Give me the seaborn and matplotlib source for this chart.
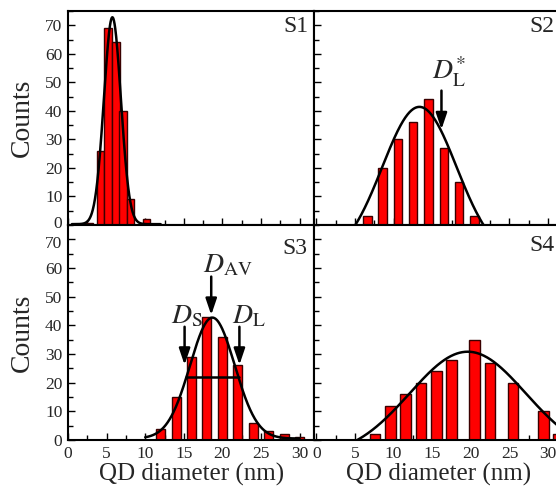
import numpy as np
import pandas as pd
import matplotlib
matplotlib.use("Agg")
import matplotlib.pyplot as plt
import matplotlib.transforms as mtransforms
import seaborn as sns
from matplotlib.ticker import MultipleLocator

# ---------------- data ----------------
s1_x = [2.7, 4.2, 5.2, 6.2, 7.15, 8.1, 10.2]
s1_counts = [0.8, 26, 69, 64, 40, 9, 2]
s2_x = [6.65, 8.6, 10.6, 12.55, 14.55, 16.55, 18.5, 20.5]
s2_counts = [3, 20, 30, 36, 44, 27, 15, 3]
s3_x = [12, 14, 16, 18, 20, 22, 24, 26, 28, 30]
s3_counts = [4, 15, 29, 43, 36, 26, 6, 3, 2, 1]
s4_x = [7.6, 9.6, 11.55, 13.55, 15.55, 17.5, 20.5, 22.45, 25.45, 29.4, 31.35]
s4_counts = [2, 12, 16, 20, 24, 28, 35, 27, 20, 10, 2]

bar_widths = [0.97, 1.1, 1.17, 1.35]

# Gaussian fit parameters (centre, sigma, amplitude, offset) and plotted range
fit_center = [5.75, 13.35, 18.7, 19.6]
fit_sigma = [1.1, 4.8, 2.89, 7.5]
fit_amp = [72.5, 53.4, 42.2, 36.8]
fit_offset = [0.3, -12.0, 0.5, -6.0]
fit_lo = [0.5, 4.0, 10.0, 5.0]
fit_hi = [12.0, 23.0, 30.0, 33.0]

panel_names = ["S1", "S2", "S3", "S4"]
x_ticks = [0, 5, 10, 15, 20, 25, 30]
y_ticks = [0, 10, 20, 30, 40, 50, 60, 70]

# ---------------- style ----------------
sns.set_theme(style="ticks")
plt.rcParams["font.family"] = ["Liberation Serif", "DejaVu Serif"]
plt.rcParams["mathtext.fontset"] = "stix"

W, H = 556, 492
fig = plt.figure(figsize=(W / 100, H / 100), dpi=100)

def box(x0, y_top, x1, y_bot):
    return [x0 / W, (H - y_bot) / H, (x1 - x0) / W, (y_bot - y_top) / H]

ax1 = fig.add_axes(box(68, 11, 314.3, 225))
ax2 = fig.add_axes(box(314.3, 11, 314.3 + 32.25 * 7.73, 225))
ax3 = fig.add_axes(box(68, 225, 314.3, 440))
ax4 = fig.add_axes(box(314.3, 225, 314.3 + 32.25 * 7.73, 440))
axes = [ax1, ax2, ax3, ax4]

xs = [s1_x, s2_x, s3_x, s4_x]
ys = [s1_counts, s2_counts, s3_counts, s4_counts]

for i, ax in enumerate(axes):
    ax.bar(xs[i], ys[i], width=bar_widths[i], color="#ff0000",
           edgecolor="#3a0000", linewidth=1.0, zorder=2)
    xx = np.linspace(fit_lo[i], fit_hi[i], 400)
    yy = fit_offset[i] + fit_amp[i] * np.exp(-(xx - fit_center[i]) ** 2 / (2 * fit_sigma[i] ** 2))
    df = pd.DataFrame({"x": xx, "y": yy})
    sns.lineplot(data=df, x="x", y="y", ax=ax, color="black", linewidth=1.8,
                 zorder=3, sort=False)
    ax.set_ylim(0, 75)
    if i in (0, 2):
        ax.set_xlim(0, 31.9)
    else:
        ax.set_xlim(-0.25, 32)
    ax.set_xticks(x_ticks)
    ax.set_yticks(y_ticks)
    ax.xaxis.set_minor_locator(MultipleLocator(2.5))
    ax.yaxis.set_minor_locator(MultipleLocator(5))
    ax.tick_params(which="both", direction="in", color="black", width=1.0,
                   top=False, right=False, labelsize=12.5, pad=4)
    ax.tick_params(which="major", length=5)
    ax.tick_params(which="minor", length=3.5)
    for sp in ax.spines.values():
        sp.set_linewidth(1.5)
        sp.set_color("black")
    ax.set_xlabel("")
    ax.set_ylabel("")
    if i in (0, 1):
        ax.tick_params(labelbottom=False)
    else:
        ax.set_xlabel("QD diameter (nm)", fontsize=18, labelpad=1)
    if i in (1, 3):
        ax.tick_params(labelleft=False)
    else:
        ax.set_ylabel("Counts", fontsize=20, labelpad=7)

# panel labels
ax1.text(31.2, 73.3, "S1", ha="right", va="top", fontsize=17)
ax2.text(30.8, 73.3, "S2", ha="right", va="top", fontsize=17)
ax3.text(31.0, 70.5, "S3", ha="right", va="top", fontsize=17)
ax4.text(30.8, 71.5, "S4", ha="right", va="top", fontsize=17)

arrow = dict(arrowstyle="-|>,head_length=0.65,head_width=0.22", lw=1.8,
             color="black", shrinkA=0, shrinkB=0, mutation_scale=15)

# S3 annotations
ax3.annotate("", xy=(18.55, 43.6), xytext=(18.55, 57), arrowprops=arrow, zorder=4)
ax3.annotate("", xy=(15.1, 26.2), xytext=(15.1, 39.5), arrowprops=arrow, zorder=4)
ax3.annotate("", xy=(22.2, 26.2), xytext=(22.2, 39.5), arrowprops=arrow, zorder=4)
ax3.plot([15.3, 22.1], [22.1, 22.1], color="black", lw=1.8, zorder=4)
ax3.text(17.5, 58.3, r"$D_{\mathrm{AV}}$", ha="left", va="baseline", fontsize=20)
ax3.text(13.4, 40.6, r"$D_{\mathrm{S}}$", ha="left", va="baseline", fontsize=20)
ax3.text(21.2, 40.6, r"$D_{\mathrm{L}}$", ha="left", va="baseline", fontsize=20)

# S2 annotation
ax2.annotate("", xy=(16.2, 33.5), xytext=(16.2, 47.1), arrowprops=arrow, zorder=4)
ax2.text(15.0, 50.8, r"$D_{\mathrm{L}}^{*}$", ha="left", va="baseline", fontsize=20)

# nudge the two tick labels that meet at the panel boundary apart a little
fig.canvas.draw()
lab0 = ax1.yaxis.get_major_ticks()[0].label1
lab0.set_transform(lab0.get_transform() +
                   mtransforms.ScaledTranslation(0, 2.5 / 100, fig.dpi_scale_trans))
lab70 = ax3.yaxis.get_major_ticks()[-1].label1
lab70.set_transform(lab70.get_transform() +
                    mtransforms.ScaledTranslation(0, -2.5 / 100, fig.dpi_scale_trans))

fig.savefig("out.png", dpi=100)
